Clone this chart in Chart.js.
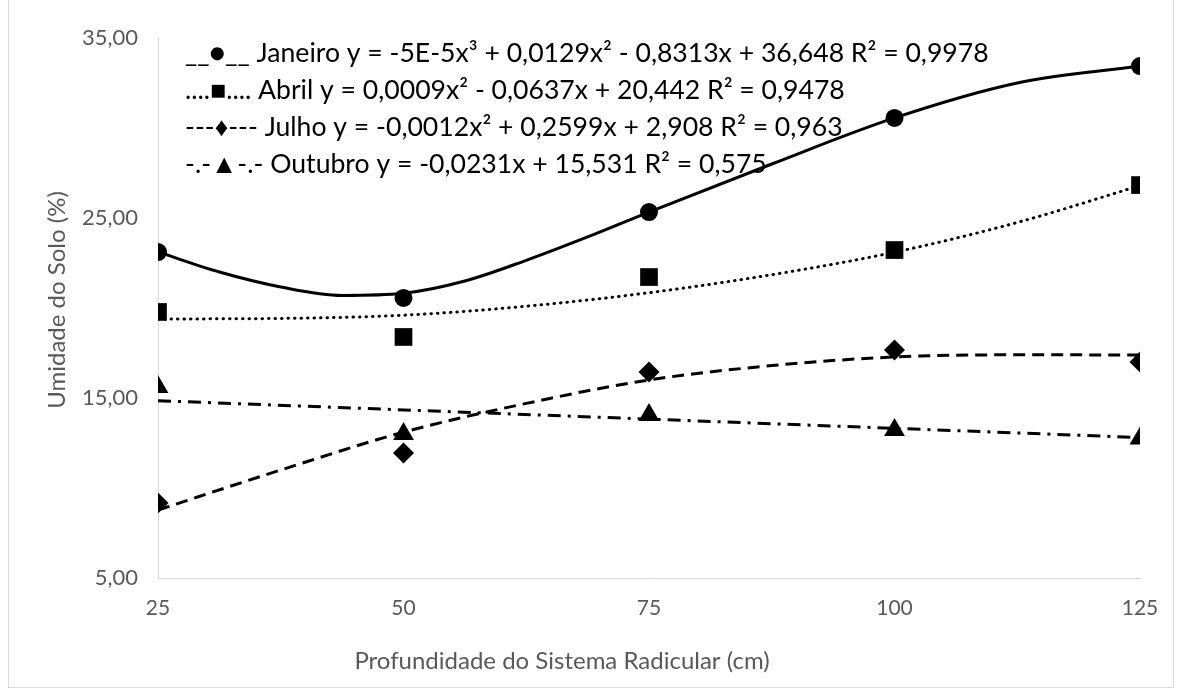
<!DOCTYPE html>
<html>
<head>
<meta charset="utf-8">
<script src="https://cdn.jsdelivr.net/npm/chart.js@4.4.1/dist/chart.umd.min.js"></script>
<style>
  html, body { margin: 0; padding: 0; background: #fff; }
  #wrap { position: relative; width: 1184px; height: 690px; }
  #frame { position: absolute; left: 8px; top: -2px; width: 1166px; height: 690px; border: 1px solid #d9d9d9; box-sizing: border-box; pointer-events: none; }
</style>
</head>
<body>
<div id="wrap">
  <canvas id="chart" width="1184" height="690"></canvas>
  <div id="frame"></div>
</div>
<script>
// measured points
const depths = [25, 50, 75, 100, 125];
const janeiro = [23.11, 20.56, 25.33, 30.56, 33.44];
const abril = [19.78, 18.39, 21.72, 23.22, 26.83];
const julho = [9.17, 11.94, 16.44, 17.67, 17.0];
const outubro = [15.61, 13.0, 14.05, 13.22, 12.75];

// trendlines
const janTrendX = [25, 31.25, 37.5, 43.75, 50, 56.25, 62.5, 68.75, 75, 87.5, 100, 112.5, 125];
const janTrendY = [23.11, 22.0, 21.17, 20.7, 20.82, 21.5, 22.65, 23.95, 25.33, 28.0, 30.56, 32.5, 33.44];
const trendX = [25, 37.5, 50, 62.5, 75, 87.5, 100, 112.5, 125];
const abrTrendY = [19.39, 19.42, 19.6, 20.1, 20.85, 21.85, 23.1, 24.75, 26.8];
const julTrendY = [8.78, 11.0, 13.1, 14.7, 16.0, 16.8, 17.28, 17.4, 17.39];
const outTrendX = [25, 125];
const outTrendY = [14.85, 12.8];

const yTicks = [5, 15, 25, 35];
const xTicks = [25, 50, 75, 100, 125];

const xTitle = "Profundidade do Sistema Radicular (cm)";
const yTitle = "Umidade do Solo (%)";
const legendLines = [
  "__\u25CF__ Janeiro y = -5E-5x\u00B3 + 0,0129x\u00B2 - 0,8313x + 36,648 R\u00B2 = 0,9978",
  "....\u25A0.... Abril y = 0,0009x\u00B2 - 0,0637x + 20,442 R\u00B2 = 0,9478",
  "---\u2666--- Julho y = -0,0012x\u00B2 + 0,2599x + 2,908 R\u00B2 = 0,963",
  "-.-\u25B2-.- Outubro y = -0,0231x + 15,531 R\u00B2 = 0,575"
];

const FONT = "Lato, 'Open Sans', sans-serif";
const grey = "#595959";

const pts = (xs, ys) => xs.map((x, i) => ({ x: x, y: ys[i] }));

function trend(xs, ys, dash, width) {
  return {
    data: pts(xs, ys),
    showLine: true,
    borderColor: "#000",
    borderWidth: width,
    borderDash: dash,
    borderCapStyle: dash.length && dash[0] < 2 ? "round" : "butt",
    cubicInterpolationMode: "monotone",
    pointRadius: 0,
    pointHoverRadius: 0,
    fill: false,
    order: 2
  };
}

function marks(ys, style, r) {
  return {
    data: pts(depths, ys),
    showLine: false,
    pointStyle: style,
    pointRadius: r,
    pointBackgroundColor: "#000",
    pointBorderColor: "#000",
    pointBorderWidth: 0,
    order: 1
  };
}

// legend + axis titles drawn as text, like the original (Excel) layout
const textLegend = {
  id: "textLegend",
  afterDraw(chart) {
    const ctx = chart.ctx;
    ctx.save();
    ctx.fillStyle = "#000";
    ctx.textBaseline = "middle";
    ctx.textAlign = "left";
    // legend: first line should run from x=185 to about x=990
    ctx.font = "20px " + FONT;
    const w = ctx.measureText(legendLines[0]).width;
    const size = Math.min(27, 20 * 805 / w);
    ctx.font = size.toFixed(1) + "px " + FONT;
    legendLines.forEach((t, i) => {
      ctx.fillText(t, 185, 53 + i * 37);
    });

    ctx.fillStyle = grey;
    ctx.textAlign = "center";
    ctx.font = "24px " + FONT;
    ctx.fillText(xTitle, 562, 661);

    ctx.translate(57, 300);
    ctx.rotate(-Math.PI / 2);
    ctx.fillText(yTitle, 0, 0);
    ctx.restore();
  }
};

new Chart(document.getElementById("chart"), {
  type: "scatter",
  data: {
    datasets: [
      trend(janTrendX, janTrendY, [], 3),
      trend(trendX, abrTrendY, [0.5, 6], 3),
      trend(trendX, julTrendY, [12, 7], 3),
      trend(outTrendX, outTrendY, [13, 7, 3, 7], 3),
      marks(janeiro, "circle", 9),
      marks(abril, "rect", 12.5),
      marks(julho, "rectRot", 10.5),
      marks(outubro, "triangle", 12)
    ]
  },
  options: {
    responsive: false,
    animation: false,
    layout: { padding: { left: 44, right: 44, top: 38, bottom: 0 } },
    plugins: {
      legend: { display: false },
      tooltip: { enabled: false }
    },
    scales: {
      x: {
        type: "linear",
        min: 25,
        max: 125,
        afterBuildTicks: s => { s.ticks = xTicks.map(v => ({ value: v })); },
        afterFit: s => { s.height = 112; },
        grid: { display: false, drawTicks: false },
        border: { display: true, color: "#d9d9d9", width: 1 },
        ticks: { color: grey, font: { family: FONT, size: 21 }, padding: 18 }
      },
      y: {
        min: 5,
        max: 35,
        afterBuildTicks: s => { s.ticks = yTicks.map(v => ({ value: v })); },
        afterFit: s => { s.width = 114; },
        grid: { display: false, drawTicks: false },
        border: { display: true, color: "#d9d9d9", width: 1 },
        ticks: {
          color: grey,
          font: { family: FONT, size: 22 },
          padding: 20,
          callback: v => v.toFixed(2).replace(".", ",")
        }
      }
    }
  },
  plugins: [textLegend]
});
</script>
</body>
</html>
